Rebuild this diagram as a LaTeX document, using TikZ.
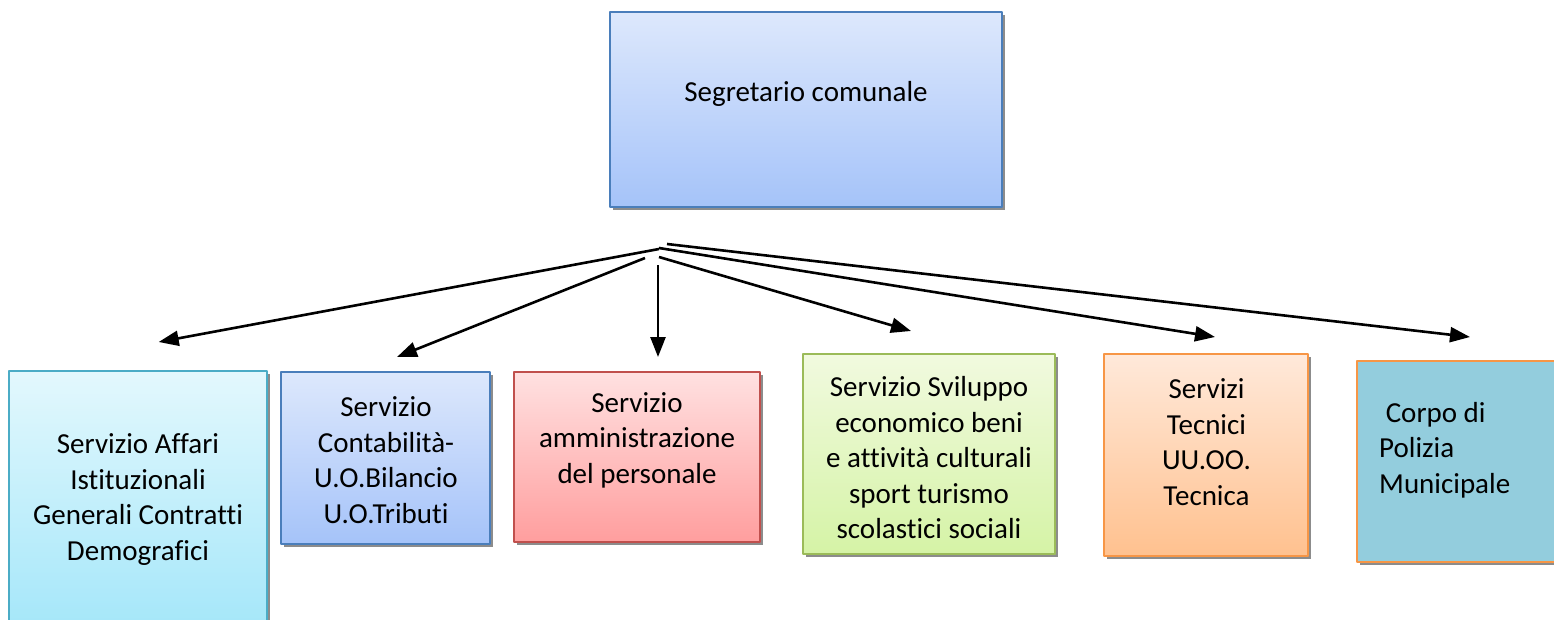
\documentclass[tikz,border=0pt]{standalone}
\usepackage{fontspec}
\setmainfont{Carlito}[Ligatures={NoCommon}]
\usetikzlibrary{arrows.meta,shadows}
% colori dei riquadri
\definecolor{segrT}{HTML}{DDE8FC}\definecolor{segrB}{HTML}{A5C3F9}\definecolor{segrD}{HTML}{4A7EBB}
\definecolor{affT}{HTML}{E3F8FD}\definecolor{affB}{HTML}{A2E6F9}\definecolor{affD}{HTML}{4BACC6}
\definecolor{persT}{HTML}{FFE1E1}\definecolor{persB}{HTML}{FF9E9E}\definecolor{persD}{HTML}{C0504D}
\definecolor{svilT}{HTML}{F1FADF}\definecolor{svilB}{HTML}{D5F3A6}\definecolor{svilD}{HTML}{9BBB59}
\definecolor{tecnT}{HTML}{FFE9DA}\definecolor{tecnB}{HTML}{FFC18F}\definecolor{tecnD}{HTML}{F79646}
\definecolor{polF}{HTML}{93CDDD}
\tikzset{
  box/.style={draw, line width=2pt, inner sep=0pt,
    drop shadow={shadow xshift=3pt, shadow yshift=-3pt, fill=black!45, opacity=1}},
  txt/.style={inner sep=0pt, align=center}
}
\begin{document}
\begin{tikzpicture}[x=1pt, y=-1pt, >={Triangle[length=20pt,width=15pt]}, line join=round,
  font=\fontsize{29}{35.5}\selectfont]
\useasboundingbox (0,0) rectangle (1554,620);
% Riquadri
\node[box, top color=segrT, bottom color=segrB, draw=segrD, minimum width=392pt, minimum height=195pt] (segr) at (806,109.5) {};
\node[box, top color=affT, bottom color=affB, draw=affD, minimum width=258pt, minimum height=269pt] (aff) at (138,505.5) {};
\node[box, top color=segrT, bottom color=segrB, draw=segrD, minimum width=209pt, minimum height=172pt] (cont) at (385.5,458) {};
\node[box, top color=persT, bottom color=persB, draw=persD, minimum width=246pt, minimum height=170pt] (pers) at (637,457) {};
\node[box, top color=svilT, bottom color=svilB, draw=svilD, minimum width=252pt, minimum height=200pt] (svil) at (929,454) {};
\node[box, top color=tecnT, bottom color=tecnB, draw=tecnD, minimum width=204pt, minimum height=202pt] (tecn) at (1206,455) {};
\node[box, fill=polF, draw=tecnD, minimum width=203pt, minimum height=201pt] (pol) at (1458.5,461.5) {};
% Testi
\node[txt] (segr-t) at (806,94) {Segretario comunale};
\node[txt] (aff-t) at (138,499.5) {Servizio Affari\\Istituzionali\\Generali Contratti\\Demografici};
\node[txt] (cont-t) at (386,460) {Servizio\\Contabilità-\\U.O.Bilancio\\U.O.Tributi};
\node[txt] (pers-t) at (637,440) {Servizio\\amministrazione\\del personale};
\node[txt] (svil-t) at (929,458) {Servizio Sviluppo\\economico beni\\e attività culturali\\sport turismo\\scolastici sociali};
\node[txt] (tecn-t) at (1206.5,442) {Servizi\\Tecnici\\UU.OO.\\Tecnica};
\node[txt, align=left, anchor=west] (pol-t) at (1379,450) {\ Corpo di\\Polizia\\Municipale};
% Frecce
\coordinate (p1) at (659,249);
\coordinate (p2) at (645,258);
\coordinate (p3) at (658,265);
\coordinate (p4) at (659,257);
\coordinate (p5) at (659,248);
\coordinate (p6) at (667,244);
\foreach \p/\b/\dx/\dy in {p1/aff/20.7/28, p2/cont/11.5/14, p3/pers/21/14, p4/svil/-18/22, p5/tecn/9/16, p6/pol/11.5/23}
  \draw[->, line width=2.6pt] (\p) -- ([xshift=\dx pt, yshift=\dy pt]\b.north);
\end{tikzpicture}
\end{document}
